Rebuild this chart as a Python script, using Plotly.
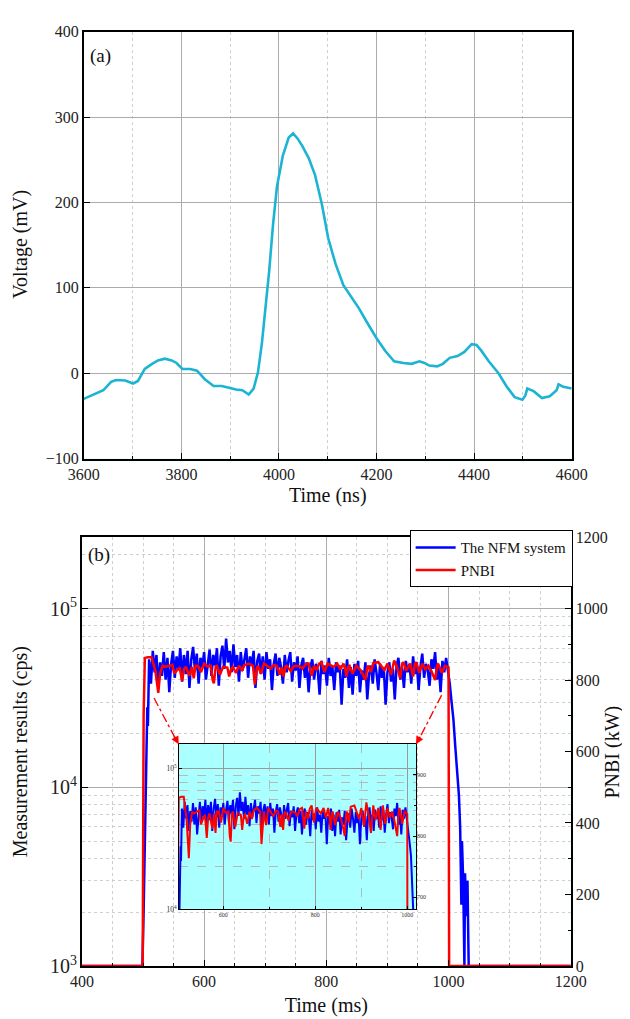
import plotly.graph_objects as go

# ---------------------------
# Panel (a): voltage pulse
# ---------------------------
volt_time = [3600, 3620, 3640, 3656, 3666, 3685, 3701, 3711, 3725, 3740, 3752, 3766,
             3780, 3790, 3802, 3818, 3832, 3848, 3866, 3883, 3896, 3912, 3925, 3938,
             3948, 3957, 3965, 3972, 3980, 3988, 3996, 4008, 4020, 4029, 4038, 4048,
             4061, 4074, 4088, 4101, 4116, 4132, 4148, 4164, 4180, 4200, 4218, 4236,
             4255, 4272, 4288, 4298, 4308, 4324, 4336, 4350, 4366, 4380, 4395, 4405,
             4414, 4430, 4450, 4466, 4483, 4499, 4505, 4509, 4522, 4539, 4555, 4564,
             4569, 4573, 4583, 4600]
volt_mv = [-30, -25, -20, -10, -8, -8.5, -12, -9, 5, 11, 15, 17,
           15, 12, 5, 5, 3, -7, -15, -15, -17, -19, -20, -25,
           -18, 1, 35, 74, 120, 175, 219, 255, 276, 281, 275, 266,
           252, 232, 198, 158, 128, 103, 90, 76, 60, 41, 26, 14,
           12, 11, 14, 12, 9, 8, 11, 18, 20, 25, 34, 33,
           27, 14, 0, -15, -28, -31, -26, -18, -21, -29, -27, -23,
           -20, -13, -16, -18]

# ---------------------------
# Panel (b): NFM count rate and PNBI power
# ---------------------------
nfm_time = [400, 499, 501, 503, 505, 507, 508,
            510, 513, 516, 519, 522, 525, 528, 531, 534, 537, 540, 543, 546, 549,
            552, 555, 558, 561, 564, 567, 570, 573, 576, 579, 582, 585, 588, 591,
            594, 597, 600, 603, 606, 609, 612, 615, 618, 621, 624, 627, 630, 633,
            636, 639, 642, 645, 648, 651, 654, 657, 660, 663, 666, 669, 672, 675,
            678, 681, 684, 687, 690, 693, 696, 699, 702, 705, 708, 711, 714, 717,
            720, 723, 726, 729, 732, 735, 738, 741, 744, 747, 750, 753, 756, 759,
            762, 765, 768, 771, 774, 777, 780, 783, 786, 789, 792, 795, 798, 801,
            804, 807, 810, 813, 816, 819, 822, 825, 828, 831, 834, 837, 840, 843,
            846, 849, 852, 855, 858, 861, 864, 867, 870, 873, 876, 879, 882, 885,
            888, 891, 894, 897, 900, 903, 906, 909, 912, 915, 918, 921, 924, 927,
            930, 933, 936, 939, 942, 945, 948, 951, 954, 957, 960, 963, 966, 969,
            972, 975, 978, 981, 984, 987, 990, 993, 996, 999,
            1002, 1005, 1008, 1011, 1014, 1017, 1019, 1021, 1022, 1024, 1026, 1027,
            1029, 1031, 1033, 1200]
# counts per second, in thousands
nfm_kcps = [1.0, 1.0, 2.0, 6.0, 15, 28, 22,
            52, 38, 58, 44, 55, 36, 50, 42, 57, 40, 53, 34, 49, 58,
            41, 54, 46, 60, 39, 55, 43, 58, 36, 52, 61, 45, 56, 38,
            53, 47, 57, 40, 51, 59, 42, 55, 48, 60, 37, 54, 62, 46,
            68, 50, 58, 44, 63, 47, 55, 39, 57, 45, 52, 60, 41, 54,
            48, 58, 36, 51, 56, 43, 54, 40, 57, 46, 52, 35, 49, 56,
            42, 53, 47, 38, 55, 44, 51, 57, 39, 50, 45, 54, 36, 48,
            53, 41, 50, 34, 47, 52, 40, 49, 45, 33, 51, 43, 48, 37,
            53, 42, 47, 35, 50, 44, 48, 29, 46, 41, 52, 36, 47, 33,
            49, 42, 51, 34, 45, 40, 50, 31, 43, 48, 38, 52, 44, 35,
            49, 41, 47, 29, 44, 50, 39, 46, 31, 48, 53, 40, 47, 36,
            51, 44, 49, 38, 54, 43, 50, 35, 47, 56, 41, 49, 45, 37,
            52, 46, 57, 40, 48, 34, 51, 44, 53, 45,
            38, 30, 24, 17, 13, 9, 6, 2.2, 5, 3, 1.0, 3.3,
            1.9, 3.0, 1.0, 1.0]

pnbi_time = [400, 499.5, 501, 503, 508, 514, 517, 520, 523, 525, 528, 532, 536, 543,
             548, 551, 556, 560, 564, 567, 570, 576, 580, 583, 586, 590, 595, 600,
             605, 611, 614, 616, 619, 621, 626, 631, 638, 641, 644, 647, 652, 657,
             662, 666, 673, 680, 683, 686, 688, 693, 698, 704, 709, 714, 719, 724,
             727, 730, 733, 735, 742, 746, 750, 757, 761, 766, 771, 776, 780, 784,
             788, 792, 797, 802, 808, 812, 818, 823, 828, 831, 833, 836, 838, 843,
             849, 853, 856, 860, 864, 867, 869, 873, 877, 885, 890, 895, 900, 906,
             911, 916, 921, 924, 926, 931, 937, 942, 945, 947, 952, 957, 962, 967,
             972, 978, 981, 983, 989, 994, 999, 1000, 1001, 1200]
pnbi_kw = [0, 0, 700, 862, 864, 864, 845, 828, 790, 764, 819, 840, 837, 840,
           842, 819, 828, 835, 797, 830, 837, 812, 837, 805, 840, 840, 822, 846,
           838, 840, 800, 791, 838, 840, 815, 837, 835, 810, 830, 837, 820, 840,
           828, 842, 846, 840, 787, 830, 840, 818, 846, 838, 832, 842, 840, 815,
           836, 810, 838, 840, 825, 838, 840, 838, 832, 844, 846, 812, 840, 828,
           845, 850, 822, 846, 840, 837, 846, 830, 846, 830, 810, 838, 840, 818,
           840, 832, 828, 815, 800, 835, 840, 822, 848, 850, 840, 828, 846, 815,
           855, 835, 805, 845, 850, 826, 846, 810, 845, 850, 820, 846, 830, 840,
           825, 800, 838, 846, 820, 840, 837, 836, 0, 0]

nfm_cps = [v * 1000 for v in nfm_kcps]

FONT = "Liberation Serif"
GRID = "#ABABAB"
MINOR = "#CFCFCF"
INSET_BG = "#AAFFFF"
W, H = 630, 1019


def px_x(x):
    return x / W


def px_y(y):
    return 1 - y / H


fig = go.Figure()

fig.add_trace(go.Scatter(x=volt_time, y=volt_mv, mode="lines", xaxis="x", yaxis="y",
                         line=dict(color="#1CB4D2", width=2.6), showlegend=False))

fig.add_trace(go.Scatter(x=nfm_time, y=nfm_cps, mode="lines", xaxis="x2", yaxis="y2",
                         name="The NFM system", line=dict(color="#0000FF", width=2.5)))
fig.add_trace(go.Scatter(x=pnbi_time, y=pnbi_kw, mode="lines", xaxis="x2", yaxis="y3",
                         name="PNBI", line=dict(color="#FF0000", width=2.5)))

# inset: same data, zoomed
fig.add_trace(go.Scatter(x=nfm_time, y=nfm_cps, mode="lines", xaxis="x3", yaxis="y4",
                         showlegend=False, line=dict(color="#0000FF", width=2)))
fig.add_trace(go.Scatter(x=pnbi_time, y=pnbi_kw, mode="lines", xaxis="x3", yaxis="y5",
                         showlegend=False, line=dict(color="#FF0000", width=2)))

tick_font = dict(family=FONT, size=16, color="#222")
title_font = dict(family=FONT, size=20, color="#111")
small_font = dict(family=FONT, size=6, color="#333")

frame = dict(showline=True, linecolor="black", linewidth=1.5, mirror=True,
             ticks="inside", tickcolor="black", tickwidth=1.2, ticklen=6,
             tickfont=tick_font, zeroline=False)

fig.update_layout(
    width=W, height=H,
    margin=dict(l=0, r=0, t=0, b=0),
    # plot background is the inset colour; main panels get white rectangles below
    paper_bgcolor="white", plot_bgcolor=INSET_BG,
    font=dict(family=FONT),
    xaxis=dict(domain=[px_x(63), px_x(577)], anchor="y", range=[3600, 4600],
               tick0=3600, dtick=200, showgrid=True, gridcolor=GRID, gridwidth=1,
               minor=dict(dtick=100, ticks="inside", ticklen=3, tickcolor="black",
                          showgrid=True, gridcolor=MINOR, griddash="dot"),
               title=dict(text="Time (ns)", font=title_font, standoff=6), **frame),
    yaxis=dict(domain=[px_y(451), px_y(16)], anchor="x", range=[-100, 400],
               dtick=100, showgrid=True, gridcolor=GRID, gridwidth=1, **frame),
    xaxis2=dict(domain=[px_x(61), px_x(576)], anchor="y2", range=[400, 1200],
                tick0=400, dtick=200, showgrid=True, gridcolor=GRID, gridwidth=1,
                minor=dict(dtick=50, ticks="inside", ticklen=3, tickcolor="black",
                           showgrid=True, gridcolor=MINOR, griddash="dot"),
                title=dict(text="Time (ms)", font=title_font, standoff=9), **frame),
    yaxis2=dict(domain=[px_y(968), px_y(531)], anchor="x2", type="log",
                range=[3, 5.4], dtick=1, exponentformat="power",
                showgrid=True, gridcolor=GRID, gridwidth=1,
                minor=dict(dtick="D1", ticks="", showgrid=True, gridcolor=MINOR,
                           griddash="dot"),
                showline=True, linecolor="black", linewidth=1.5, mirror=False,
                ticks="inside", tickcolor="black", tickwidth=1.2, ticklen=6,
                tickfont=tick_font, zeroline=False),
    yaxis3=dict(overlaying="y2", side="right", anchor="x2", range=[0, 1200], dtick=200,
                showgrid=False, showline=True, linecolor="black", linewidth=1.5,
                ticks="inside", tickcolor="black", tickwidth=1.2, ticklen=6,
                minor=dict(dtick=100, ticks="inside", ticklen=3, tickcolor="black"),
                tickfont=tick_font, zeroline=False),
    xaxis3=dict(domain=[px_x(163), px_x(413)], anchor="y4", range=[503, 1019],
                tick0=0, dtick=200, showgrid=True, gridcolor="#9A9A9A", gridwidth=0.8,
                minor=dict(dtick=100, ticks="inside", ticklen=2, tickcolor="black",
                           showgrid=True, gridcolor="#B8B8B8", griddash="dash"),
                showline=True, linecolor="black", linewidth=1, mirror=True,
                ticks="inside", ticklen=3, tickcolor="black", tickfont=small_font,
                zeroline=False),
    yaxis4=dict(domain=[px_y(910), px_y(742)], anchor="x3", type="log",
                range=[4, 5.175], dtick=1, exponentformat="power",
                showgrid=True, gridcolor="#9A9A9A", gridwidth=0.8,
                minor=dict(dtick="D1", showgrid=True, gridcolor="#B8B8B8", griddash="dash"),
                showline=True, linecolor="black", linewidth=1, mirror=True,
                ticks="inside", ticklen=3, tickcolor="black", tickfont=small_font,
                zeroline=False),
    yaxis5=dict(overlaying="y4", side="right", anchor="x3", range=[681, 950], dtick=100,
                showgrid=False, showline=False, ticks="inside", ticklen=3,
                tickcolor="black", tickfont=small_font, zeroline=False,
                minor=dict(dtick=50, ticks="inside", ticklen=2, tickcolor="black")),
    legend=dict(x=px_x(578), xanchor="right", y=px_y(524), yanchor="top",
                bgcolor="white", bordercolor="black", borderwidth=1,
                font=dict(family=FONT, size=15, color="#111"),
                tracegroupgap=0, itemwidth=40),
)

# white backgrounds for the two main panels
for xr, yr in [("x domain", "y domain"), ("x2 domain", "y2 domain")]:
    fig.add_shape(type="rect", xref=xr, yref=yr, x0=0, x1=1, y0=0, y1=1,
                  fillcolor="white", line=dict(width=0), layer="below")

# y-axis titles (positions corrected for plotly's rotated-box offset)
for text, x, y in [("Voltage (mV)", -4, 233),
                   ("Measurement results (cps)", -4, 750),
                   ("PNBI (kW)", 619, 750)]:
    fig.add_annotation(x=px_x(x), y=px_y(y), xref="paper", yref="paper", text=text,
                       textangle=-90, showarrow=False, xanchor="center",
                       yanchor="middle", font=title_font)

# dash-dot pointers from the main traces to the inset corners
for (x0, y0, x1, y1) in [(137, 695, 161, 739), (440, 692, 415, 739)]:
    fig.add_shape(type="line", xref="paper", yref="paper",
                  x0=px_x(x0), y0=px_y(y0), x1=px_x(x1), y1=px_y(y1),
                  line=dict(color="#FF0000", width=1.3, dash="dashdot"))
fig.add_annotation(x=px_x(163), y=px_y(742), xref="paper", yref="paper", text="",
                   showarrow=True, arrowhead=2, arrowsize=1.2, arrowwidth=1.3,
                   arrowcolor="#FF0000", ax=-5, ay=-9, standoff=0)
fig.add_annotation(x=px_x(413), y=px_y(742), xref="paper", yref="paper", text="",
                   showarrow=True, arrowhead=2, arrowsize=1.2, arrowwidth=1.3,
                   arrowcolor="#FF0000", ax=5, ay=-9, standoff=0)

# panel labels
fig.add_annotation(x=px_x(67), y=px_y(28), xref="paper", yref="paper", text="(a)",
                   showarrow=False, xanchor="left", font=dict(family=FONT, size=19, color="#111"))
fig.add_annotation(x=px_x(65), y=px_y(549), xref="paper", yref="paper", text="(b)",
                   showarrow=False, xanchor="left", font=dict(family=FONT, size=19, color="#111"))

fig.write_html("out.html")
